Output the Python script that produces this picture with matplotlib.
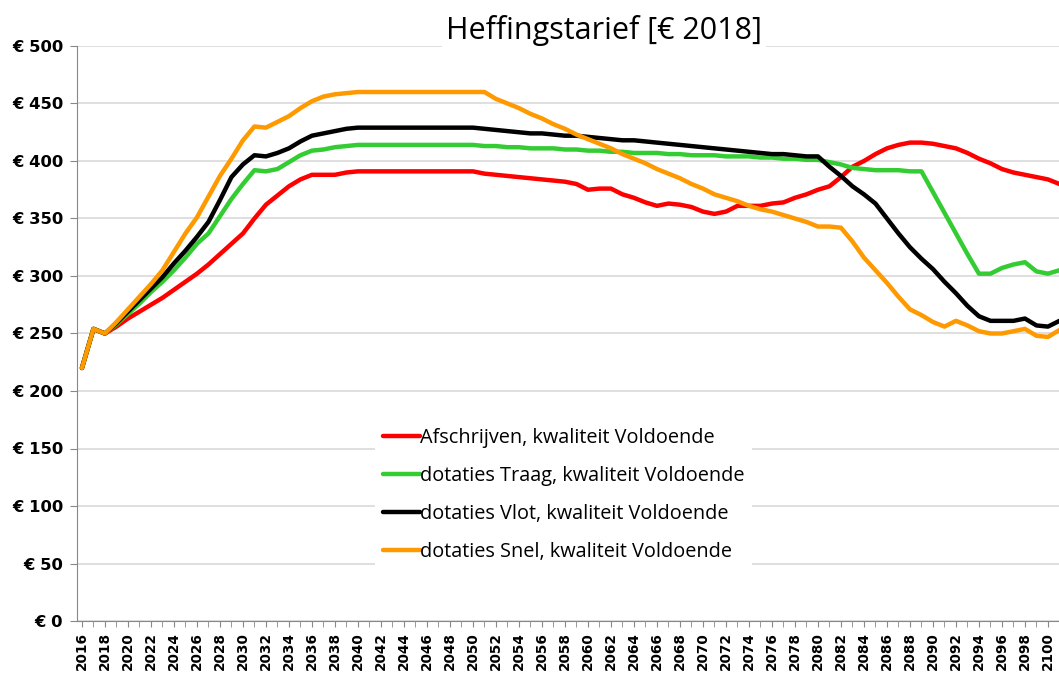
import matplotlib
matplotlib.use('Agg')
import matplotlib.pyplot as plt
from matplotlib.ticker import MultipleLocator, FuncFormatter
import numpy as np

years = list(range(2016, 2102))

afschrijven = [220, 254, 250, 256, 263, 269, 275, 281, 288, 295,
               302, 310, 319, 328, 337, 350, 362, 370, 378, 384,
               388, 388, 388, 390, 391, 391, 391, 391, 391, 391,
               391, 391, 391, 391, 391, 389, 388, 387, 386, 385,
               384, 383, 382, 380, 375, 376, 376, 371, 368, 364,
               361, 363, 362, 360, 356, 354, 356, 361, 361, 361,
               363, 364, 368, 371, 375, 378, 386, 395, 400, 406,
               411, 414, 416, 416, 415, 413, 411, 407, 402, 398,
               393, 390, 388, 386, 384, 380]

traag = [220, 254, 250, 258, 267, 276, 286, 295, 305, 316,
         328, 337, 352, 367, 380, 392, 391, 393, 399, 405,
         409, 410, 412, 413, 414, 414, 414, 414, 414, 414,
         414, 414, 414, 414, 414, 413, 413, 412, 412, 411,
         411, 411, 410, 410, 409, 409, 408, 408, 407, 407,
         407, 406, 406, 405, 405, 405, 404, 404, 404, 403,
         403, 402, 402, 401, 401, 399, 397, 394, 393, 392,
         392, 392, 391, 391, 373, 355, 337, 319, 302, 302,
         307, 310, 312, 304, 302, 305]

vlot = [220, 254, 250, 259, 269, 279, 289, 299, 311, 322,
        334, 347, 366, 386, 397, 405, 404, 407, 411, 417,
        422, 424, 426, 428, 429, 429, 429, 429, 429, 429,
        429, 429, 429, 429, 429, 428, 427, 426, 425, 424,
        424, 423, 422, 422, 421, 420, 419, 418, 418, 417,
        416, 415, 414, 413, 412, 411, 410, 409, 408, 407,
        406, 406, 405, 404, 404, 395, 387, 378, 371, 363,
        350, 337, 325, 315, 306, 295, 285, 274, 265, 261,
        261, 261, 263, 257, 256, 261]

snel = [220, 254, 250, 260, 271, 282, 293, 305, 321, 337,
        351, 369, 387, 402, 418, 430, 429, 434, 439, 446,
        452, 456, 458, 459, 460, 460, 460, 460, 460, 460,
        460, 460, 460, 460, 460, 460, 454, 450, 446, 441,
        437, 432, 428, 423, 419, 415, 411, 406, 402, 398,
        393, 389, 385, 380, 376, 371, 368, 365, 361, 358,
        356, 353, 350, 347, 343, 343, 342, 330, 316, 305,
        294, 282, 271, 266, 260, 256, 261, 257, 252, 250,
        250, 252, 254, 248, 247, 253]

labels = ['Afschrijven, kwaliteit Voldoende',
          'dotaties Traag, kwaliteit Voldoende',
          'dotaties Vlot, kwaliteit Voldoende',
          'dotaties Snel, kwaliteit Voldoende']
colors = ['#ff0000', '#33cc33', '#000000', '#ff9900']

fig = plt.figure(figsize=(10.59, 6.73), dpi=100)
ax = fig.add_axes([77 / 1059, 52 / 673, 982 / 1059, 575 / 673])

for series, lab, col in zip([afschrijven, traag, vlot, snel], labels, colors):
    ax.plot(years, series, color=col, lw=3.2, label=lab, solid_capstyle='round')

ax.set_xlim(2015.57, 2100.96)
ax.set_ylim(0, 500)
ax.yaxis.set_major_locator(MultipleLocator(50))
ax.yaxis.set_major_formatter(FuncFormatter(lambda v, p: f'€ {int(v)}'))
ax.set_xticks(list(range(2016, 2101, 2)))
ax.xaxis.set_minor_locator(MultipleLocator(1))
ax.tick_params(axis='x', which='major', rotation=90, labelsize=9.8, length=4,
               color='#888888', pad=4)
ax.tick_params(axis='x', which='minor', length=4, color='#888888')
ax.tick_params(axis='y', labelsize=11.8, length=5, color='#888888', pad=5)
for t in ax.get_xticklabels() + ax.get_yticklabels():
    t.set_fontweight('bold')
    t.set_family('DejaVu Sans')

ax.grid(axis='y', color='#d9d9d9', lw=1.2)
ax.set_axisbelow(True)
for s in ['top', 'right']:
    ax.spines[s].set_visible(False)
ax.spines['left'].set_color('#888888')
ax.spines['bottom'].set_color('#888888')

fig.text(604 / 1059, 1 - 31 / 673, 'Heffingstarief [€ 2018]', ha='center', va='center',
         fontsize=22, family='Open Sans',
         bbox=dict(facecolor='white', edgecolor='none', pad=3))

leg = ax.legend(loc='upper left', bbox_to_anchor=(375 / 1059, 1 - 420 / 673),
                bbox_transform=fig.transFigure, frameon=True, framealpha=1,
                edgecolor='none', fancybox=False, handlelength=1.85, handletextpad=0.0,
                labelspacing=0.9, prop={'family': 'Open Sans', 'size': 14.3},
                borderaxespad=0)

fig.savefig('out.png', dpi=100)
